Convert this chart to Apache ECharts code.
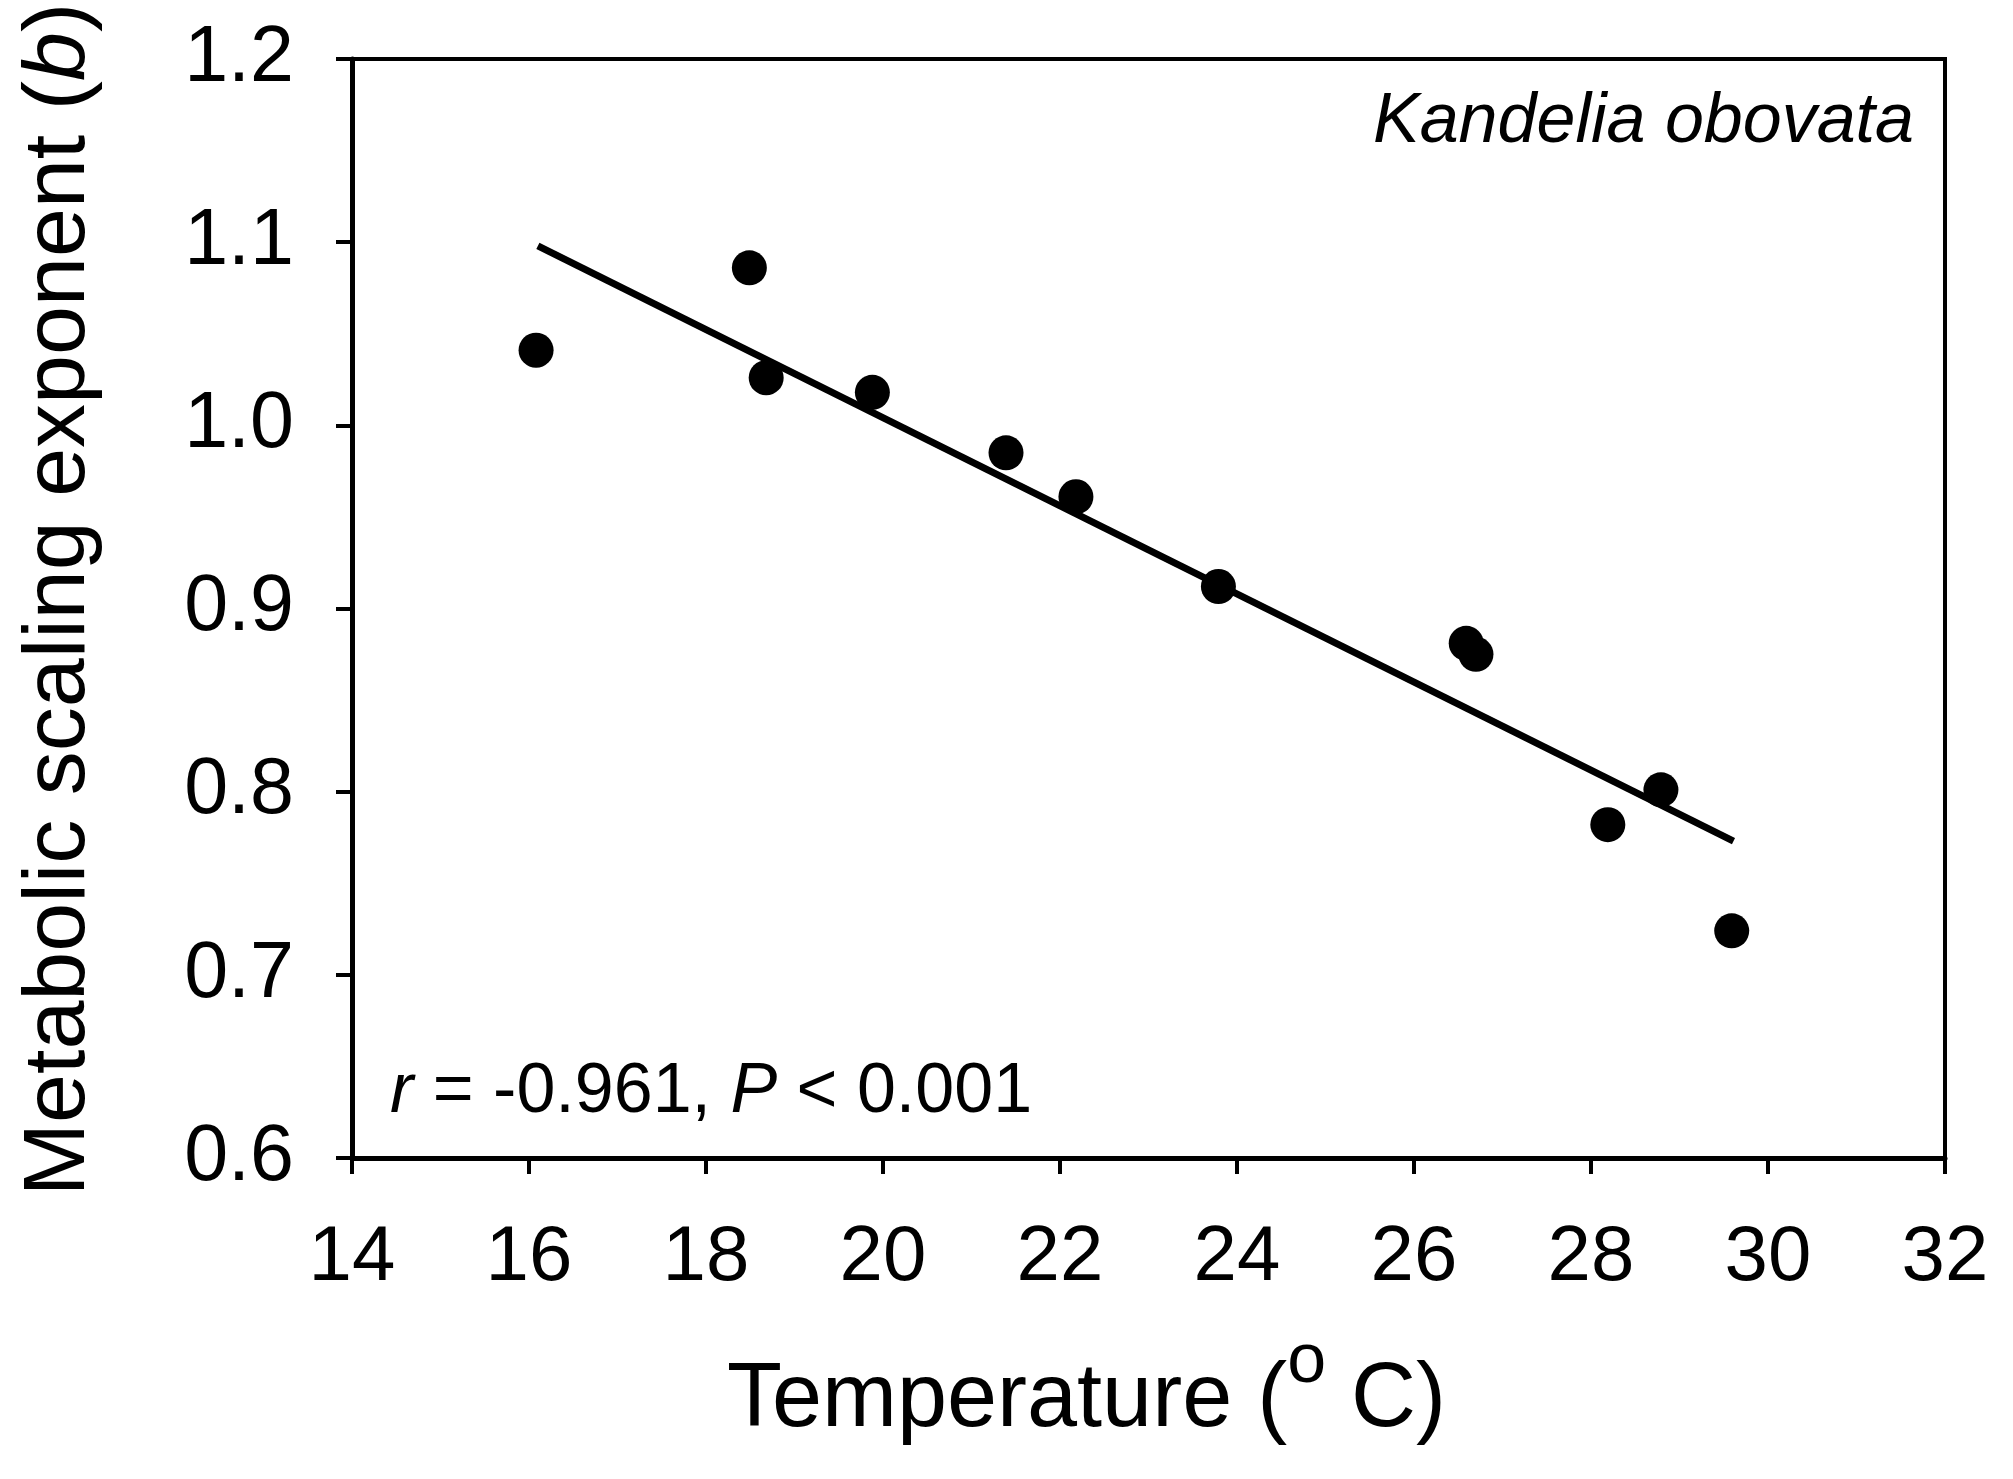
<!DOCTYPE html>
<html>
<head>
<meta charset="utf-8">
<title>Kandelia obovata</title>
<script src="https://cdn.jsdelivr.net/npm/echarts@6/dist/echarts.min.js"></script>
<style>
	html, body { margin: 0; padding: 0; background: #fff; }
	#main { width: 2013px; height: 1479px; }
</style>
</head>
<body>
<div id="main"></div>
<script>
// 温度 (x) 和 代谢标度指数 b (y)
var tempX = [16.08, 18.49, 18.68, 19.88, 21.39, 22.18, 23.79, 26.59, 26.70, 28.19, 28.79, 29.59];
var expB  = [1.041, 1.086, 1.026, 1.018, 0.985, 0.961, 0.912, 0.881, 0.875, 0.782, 0.801, 0.724];
// 回归线两端
var fitX = [16.10, 29.61];
var fitY = [1.098, 0.773];
// 坐标轴刻度
var xTicks = [14, 16, 18, 20, 22, 24, 26, 28, 30, 32];
var yTicks = [0.6, 0.7, 0.8, 0.9, 1.0, 1.1, 1.2];

var font = "'Liberation Sans', Arial, sans-serif";

function pairs(xs, ys){
	var out = [];
	for (var i = 0; i < xs.length; i++) out.push([xs[i], ys[i]]);
	return out;
}

var myChart = echarts.init(document.getElementById('main'));
var option = {
	backgroundColor: '#fff',
	animation: false,
	textStyle: { fontFamily: font, color: '#000' },
	grid: {
		left: 352, right: 68, top: 59, bottom: 310,
		show: true, borderColor: '#000', borderWidth: 4,
		containLabel: false
	},
	xAxis: {
		type: 'value',
		min: xTicks[0], max: xTicks[xTicks.length - 1], interval: 2,
		name: 'Temperature ({s|o} C)',
		nameLocation: 'middle',
		nameGap: 170,
		nameTextStyle: {
			fontFamily: font, fontSize: 90, color: '#000', lineHeight: 146,
			padding: [0, 124, 0, 0],
			rich: { s: { fontFamily: font, fontSize: 70, lineHeight: 70, verticalAlign: 'top', color: '#000' } }
		},
		axisLine: { show: true, onZero: false, lineStyle: { color: '#000', width: 5 } },
		axisTick: { show: true, inside: false, length: 16, lineStyle: { color: '#000', width: 4 } },
		axisLabel: { fontFamily: font, fontSize: 78, color: '#000', margin: 61 },
		splitLine: { show: false }
	},
	yAxis: {
		type: 'value',
		min: yTicks[0], max: yTicks[yTicks.length - 1], interval: 0.1,
		name: 'Metabolic scaling exponent ({i|b})',
		nameLocation: 'middle',
		nameGap: 248,
		nameTextStyle: {
			fontFamily: font, fontSize: 88, color: '#000',
			padding: [0, 0, 0, 18],
			rich: { i: { fontFamily: font, fontSize: 88, fontStyle: 'italic', color: '#000' } }
		},
		axisLine: { show: true, onZero: false, lineStyle: { color: '#000', width: 5 } },
		axisTick: { show: true, inside: false, length: 16, lineStyle: { color: '#000', width: 4 } },
		axisLabel: {
			fontFamily: font, fontSize: 79, color: '#000', margin: 58,
			formatter: function(v){ return v.toFixed(1); }
		},
		splitLine: { show: false }
	},
	series: [{
		name: 'fit',
		type: 'line',
		data: pairs(fitX, fitY),
		symbol: 'none',
		lineStyle: { color: '#000', width: 7, cap: 'butt' },
		z: 2
	}, {
		name: 'b',
		type: 'scatter',
		data: pairs(tempX, expB),
		symbol: 'circle',
		symbolSize: 35,
		itemStyle: { color: '#000', opacity: 1 },
		z: 3
	}],
	graphic: [{
		type: 'text',
		x: 1914, y: 123,
		style: {
			text: 'Kandelia obovata',
			font: 'italic 70px ' + font,
			fill: '#000', align: 'right', verticalAlign: 'middle'
		}
	}, {
		type: 'text',
		x: 390, y: 1093,
		style: {
			text: '{i|r} = -0.961, {i|P} < 0.001',
			font: '70px ' + font,
			fill: '#000', align: 'left', verticalAlign: 'middle',
			rich: { i: { fontStyle: 'italic', fontSize: 70, fontFamily: font, fill: '#000' } }
		}
	}]
};
myChart.setOption(option);
</script>
</body>
</html>
